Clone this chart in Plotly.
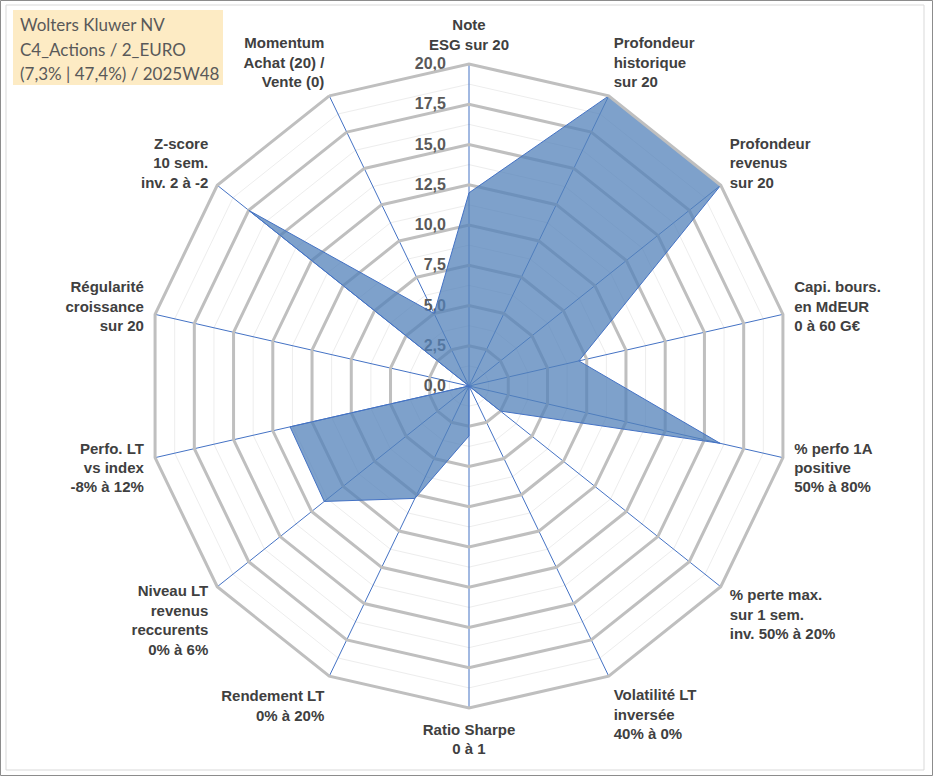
import plotly.graph_objects as go

categories = [
    "Note<br>ESG sur 20",
    "Profondeur<br>historique<br>sur 20",
    "Profondeur<br>revenus<br>sur 20",
    "Capi. bours.<br>en MdEUR<br>0 à 60 G€",
    "% perfo 1A<br>positive<br>50% à 80%",
    "% perte max.<br>sur 1 sem.<br>inv. 50% à 20%",
    "Volatilité LT<br>inversée<br>40% à 0%",
    "Ratio Sharpe<br>0 à 1",
    "Rendement LT<br>0% à 20%",
    "Niveau LT<br>revenus<br>reccurents<br>0% à 6%",
    "Perfo. LT<br>vs index<br>-8% à 12%",
    "Régularité<br>croissance<br>sur 20",
    "Z-score<br>10 sem.<br>inv. 2 à -2",
    "Momentum<br>Achat (20) /<br>Vente (0)",
]
values = [12, 20, 20, 7, 16, 2.5, 0, 3.1, 7.75, 11.5, 11.4, 0, 17.5, 5]
major_ticks = [0, 2.5, 5, 7.5, 10, 12.5, 15, 17.5, 20]
minor_ticks = [0, 1.25, 2.5, 3.75, 5, 6.25, 7.5, 8.75, 10, 11.25, 12.5,
               13.75, 15, 16.25, 17.5, 18.75, 20]
title_lines = ["Wolters Kluwer NV", "C4_Actions / 2_EURO", "(7,3% | 47,4%) / 2025W48"]

W, H = 933, 776
cx, cy, R = 469, 386, 322

fig = go.Figure()

# hidden trace to give the background subplot its categories
fig.add_trace(go.Scatterpolar(
    r=values, theta=categories, mode="lines",
    line=dict(width=0), opacity=0, hoverinfo="skip",
    showlegend=False, subplot="polar"))

fig.add_trace(go.Scatterpolar(
    r=values + values[:1], theta=categories + categories[:1],
    mode="lines", fill="toself",
    fillcolor="rgba(83,129,186,0.75)",
    line=dict(color="#4472C4", width=1),
    showlegend=False, subplot="polar2"))

dom_x = [(cx - R) / W, (cx + R) / W]
dom_y = [(H - cy - R) / H, (H - cy + R) / H]

shapes = [
    dict(type="rect", xref="paper", yref="paper",
         x0=0.5 / W, x1=1 - 0.5 / W, y0=0.5 / H, y1=1 - 0.5 / H,
         line=dict(color="#8C8C8C", width=1), layer="below"),
    dict(type="rect", xref="paper", yref="paper",
         x0=6 / W, x1=924 / W, y0=1 - 770 / H, y1=1 - 5 / H,
         line=dict(color="#D9D9D9", width=1), layer="below"),
    dict(type="rect", xref="paper", yref="paper",
         x0=13 / W, x1=223 / W, y0=1 - 85 / H, y1=1 - 10 / H,
         fillcolor="#FDEBC4", line=dict(width=0), layer="below"),
]
annotations = [
    dict(text=line, xref="paper", yref="paper",
         x=18 / W, y=1 - (24.5 + 24.5 * i) / H, xanchor="left", yanchor="middle",
         align="left", showarrow=False,
         font=dict(family="Lato", size=17, color="#595959"))
    for i, line in enumerate(title_lines)
]

fig.update_layout(
    width=W, height=H,
    margin=dict(l=0, r=0, t=0, b=0),
    paper_bgcolor="white",
    separators=", ",
    showlegend=False,
    polar=dict(
        domain=dict(x=dom_x, y=dom_y),
        gridshape="linear",
        bgcolor="white",
        angularaxis=dict(direction="clockwise", rotation=90,
                         showticklabels=False, showgrid=False,
                         showline=False, ticks=""),
        radialaxis=dict(range=[0, 20], tickvals=minor_ticks,
                        showticklabels=False, showline=False, ticks="",
                        gridcolor="#EDEDED", gridwidth=1),
    ),
    polar2=dict(
        domain=dict(x=dom_x, y=dom_y),
        gridshape="linear",
        bgcolor="rgba(0,0,0,0)",
        angularaxis=dict(direction="clockwise", rotation=90,
                         showgrid=True, gridcolor="#4472C4", gridwidth=1.3,
                         showline=True, linecolor="#BFBFBF", linewidth=3,
                         ticks="outside", ticklen=7, tickcolor="rgba(0,0,0,0)",
                         layer="above traces",
                         tickfont=dict(family="Liberation Sans", size=15,
                                       color="#404040", weight="bold")),
        radialaxis=dict(range=[0, 20], tickvals=major_ticks,
                        tickformat=".1f", angle=90, tickangle=90,
                        side="counterclockwise",
                        showline=False,
                        ticks="outside", ticklen=17, tickcolor="rgba(0,0,0,0)",
                        gridcolor="#BFBFBF", gridwidth=3,
                        layer="below traces",
                        tickfont=dict(family="Liberation Sans", size=16,
                                      color="#595959", weight="bold")),
    ),
    shapes=shapes,
    annotations=annotations,
)

fig.write_html("out.html", config={"displayModeBar": False},
               post_script="document.body.style.margin='0';")
